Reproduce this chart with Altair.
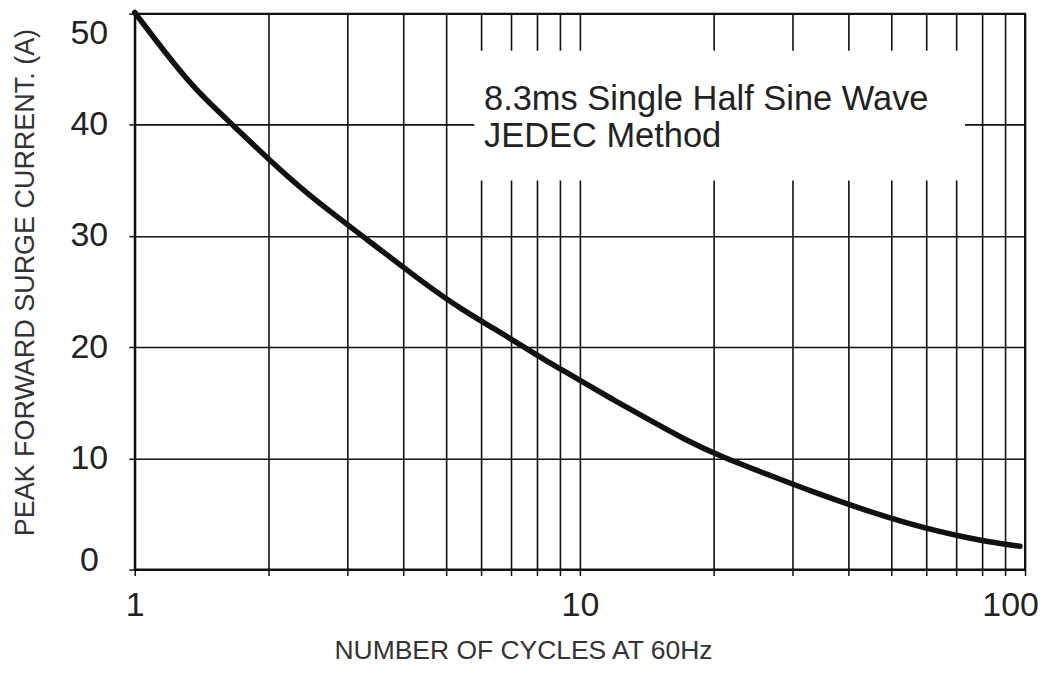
import altair as alt
import pandas as pd

# Curve (number of cycles, peak forward surge current A)
cycles = [1.0, 1.16, 1.37, 1.66, 2.07, 2.54, 3.30, 4.51, 5.47, 6.46, 7.49, 8.38,
          9.22, 10.0, 12.1, 14.4, 17.1, 20.6, 26.4, 32.9, 44.7, 54.3, 64.0, 74.5,
          83.4, 91.7, 97.4]
current = [50.1, 46.7, 43.1, 40.0, 36.3, 33.2, 29.8, 25.6, 23.3, 21.6, 20.0, 18.8,
           17.85, 17.0, 15.1, 13.4, 11.75, 10.2, 8.55, 7.07, 5.2, 4.18, 3.43, 2.84,
           2.48, 2.24, 2.09]

grid_x = [1, 2, 3, 4, 5, 6, 7, 8, 9, 10, 20, 30, 40, 50, 60, 70, 80, 90, 100]
grid_y = [0, 10, 20, 30, 40, 50]
note_lines = ["8.3ms Single Half Sine Wave", "JEDEC Method"]
note_box = {"x": [5.79], "x2": [73.3], "y": [46.65], "y2": [35.0]}
note_pos = {"x": [6.09], "y": [41.33]}

FONT = "Liberation Sans"

curve_df = pd.DataFrame({"cycles": cycles, "current": current})

x_scale = alt.Scale(type="log", domain=[1, 100], nice=False)
y_scale = alt.Scale(domain=[0, 50], nice=False, zero=False)

x_axis = alt.Axis(
    values=grid_x,
    title="NUMBER OF CYCLES AT 60Hz",
    labelExpr="(datum.value == 1 || datum.value == 10 || datum.value == 100) ? format(datum.value, 'd') : ''",
    grid=True, gridColor="#111", gridWidth=1.6,
    tickSize=6, tickColor="#111", tickWidth=1.5,
    domainColor="#111", domainWidth=2,
    labelFontSize=34, labelPadding=13, labelColor="#222", labelFont=FONT,
    labelOffset={"condition": {"test": "datum.value == 100", "value": -15}, "value": 0},
    labelFlush=False, labelOverlap=False, labelBound=False,
    titleFontSize=26.5, titleFontWeight="normal", titlePadding=15,
    titleX=389, titleColor="#333", titleFont=FONT,
)

y_axis = alt.Axis(
    values=grid_y,
    title="PEAK FORWARD SURGE CURRENT. (A)",
    format="d",
    grid=True, gridColor="#111", gridWidth=1.6,
    tickSize=6, tickColor="#111", tickWidth=1.5,
    domainColor="#111", domainWidth=2,
    labelFontSize=34, labelPadding=40, labelColor="#222", labelFont=FONT,
    labelAlign="center", labelBaseline="middle",
    labelOffset={"condition": [{"test": "datum.value == 50", "value": 20},
                               {"test": "datum.value == 0", "value": -9}],
                 "value": 0},
    labelFlush=False, labelOverlap=False, labelBound=False,
    titleFontSize=27, titleFontWeight="normal", titlePadding=31,
    titleY=269, titleColor="#333", titleFont=FONT,
)

curve = alt.Chart(curve_df).mark_line(
    color="#111", strokeWidth=5.5, interpolate="basis", strokeCap="round"
).encode(
    x=alt.X("cycles:Q", scale=x_scale, axis=x_axis),
    y=alt.Y("current:Q", scale=y_scale, axis=y_axis),
)

box = alt.Chart(pd.DataFrame(note_box)).mark_rect(color="white").encode(
    x=alt.X("x:Q", scale=x_scale),
    x2="x2:Q",
    y=alt.Y("y:Q", scale=y_scale),
    y2="y2:Q",
)

note = alt.Chart(pd.DataFrame(note_pos)).mark_text(
    text=note_lines, align="left", baseline="alphabetic", fontSize=34.5,
    lineHeight=37, font=FONT, color="#222"
).encode(
    x=alt.X("x:Q", scale=x_scale),
    y=alt.Y("y:Q", scale=y_scale),
)

chart = alt.layer(box, curve, note).properties(
    width=892, height=557,
    autosize=alt.AutoSizeParams(type="none"),
    padding={"left": 127, "top": 5, "right": 15, "bottom": 95},
    background="white",
).configure_view(
    stroke="#111", strokeWidth=2
)

chart.save("out.html", embed_options={"renderer": "svg", "actions": False})
